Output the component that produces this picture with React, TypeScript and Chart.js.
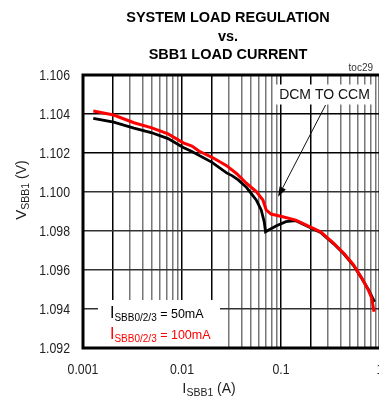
import React, { useEffect, useRef } from 'react';
import { Chart, registerables } from 'chart.js';

Chart.register(...registerables);

// ---- data ----
const current50 = [0.00127, 0.00204, 0.00327, 0.00487, 0.00723, 0.0103, 0.0126, 0.0201, 0.0282, 0.032, 0.037, 0.0447, 0.0562, 0.0631, 0.0676, 0.0698, 0.089, 0.112, 0.141, 0.178, 0.251, 0.341, 0.43, 0.541, 0.656, 0.764, 0.825, 0.88];
const vsbb1_50 = [1.10378, 1.10358, 1.10328, 1.10305, 1.10274, 1.10228, 1.10208, 1.10152, 1.10098, 1.10084, 1.10062, 1.10024, 1.09959, 1.09908, 1.09848, 1.09796, 1.09826, 1.09848, 1.09853, 1.09828, 1.09793, 1.09734, 1.09683, 1.09623, 1.09556, 1.09499, 1.09466, 1.09437];

const current100 = [0.00127, 0.00204, 0.00327, 0.00487, 0.00723, 0.0103, 0.0126, 0.0148, 0.0201, 0.0282, 0.0355, 0.0447, 0.0562, 0.0657, 0.0708, 0.0794, 0.104, 0.141, 0.178, 0.251, 0.341, 0.43, 0.541, 0.656, 0.764, 0.825, 0.87];
const vsbb1_100 = [1.10415, 1.10395, 1.10355, 1.1033, 1.10298, 1.10252, 1.10236, 1.1021, 1.10178, 1.10135, 1.10095, 1.10045, 1.10002, 1.09959, 1.09908, 1.09887, 1.09873, 1.09856, 1.09831, 1.09796, 1.09737, 1.09686, 1.09626, 1.09557, 1.09497, 1.09455, 1.09386];

const yTickValues = [1.092, 1.094, 1.096, 1.098, 1.1, 1.102, 1.104, 1.106];
const xDecades = [0.001, 0.01, 0.1, 1];
const xDecadeLabels = ['0.001', '0.01', '0.1', '1'];
const titleLines = ['SYSTEM LOAD REGULATION', 'vs.', 'SBB1 LOAD CURRENT'];
const seriesLabels = [
  { main: 'I', sub: 'SBB0/2/3', rest: ' = 50mA' },
  { main: 'I', sub: 'SBB0/2/3', rest: ' = 100mA' },
];
const seriesColors = ['#000000', '#ff0000'];
const annotationText = 'DCM TO CCM';
const annotationAt = { x: 0.275, y: 1.105 };
const arrowFrom = { x: 0.282, y: 1.10446 };
const arrowTo = { x: 0.0935, y: 1.09976 };
const figureId = 'toc29';

// grid values for the log axis: 1..9 x each decade
const xGridValues: number[] = [];
xDecades.forEach((d, i) => {
  if (i === xDecades.length - 1) { xGridValues.push(d); return; }
  for (let m = 1; m <= 9; m++) xGridValues.push(+(d * m).toPrecision(3));
});

const SANS = "'Liberation Sans', Arial, sans-serif";

function decadeIndex(v: number) {
  return xDecades.findIndex((d) => Math.abs(Math.log10(v) - Math.log10(d)) < 1e-6);
}
function mantissa(v: number) {
  const e = Math.floor(Math.log10(v) + 1e-9);
  return Math.round(v / Math.pow(10, e));
}

type Part = { text: string; font: string; dy: number };
function richWidth(ctx: CanvasRenderingContext2D, parts: Part[]) {
  let w = 0;
  parts.forEach((p) => { ctx.font = p.font; w += ctx.measureText(p.text).width; });
  return w;
}
function drawRich(ctx: CanvasRenderingContext2D, parts: Part[], x: number, y: number) {
  let cx = x;
  ctx.textAlign = 'left';
  ctx.textBaseline = 'alphabetic';
  parts.forEach((p) => {
    ctx.font = p.font;
    ctx.fillText(p.text, cx, y + p.dy);
    cx += ctx.measureText(p.text).width;
  });
}
// condensed text (narrow face emulation)
function drawNarrow(ctx: CanvasRenderingContext2D, text: string, x: number, y: number, align: CanvasTextAlign) {
  ctx.save();
  ctx.translate(x, y);
  ctx.scale(0.82, 1);
  ctx.textAlign = align;
  ctx.textBaseline = 'alphabetic';
  ctx.fillText(text, 0, 0);
  ctx.restore();
}

const decorPlugin = {
  id: 'decor',
  beforeDatasetsDraw(chart: any) {
    const { ctx, chartArea: a, scales } = chart;
    ctx.save();
    ctx.fillStyle = '#ffffff';
    // legend box
    ctx.fillRect(a.left + 15, a.bottom - 48, 122, 48);
    // annotation box
    const ax = scales.x.getPixelForValue(annotationAt.x);
    const ay = scales.y.getPixelForValue(annotationAt.y);
    ctx.font = `14px ${SANS}`;
    const tw = ctx.measureText(annotationText).width;
    ctx.fillRect(ax - tw / 2 - 4, ay - 10, tw + 8, 20);
    ctx.restore();
  },
  afterDraw(chart: any) {
    const { ctx, chartArea: a, scales } = chart;
    ctx.save();
    // plot border
    ctx.strokeStyle = '#000';
    ctx.lineWidth = 3;
    ctx.strokeRect(a.left, a.top, a.right - a.left, a.bottom - a.top);

    // tick labels
    ctx.fillStyle = '#222';
    ctx.font = `15px ${SANS}`;
    yTickValues.forEach((v) => {
      const py = scales.y.getPixelForValue(v);
      drawNarrow(ctx, v.toFixed(3), a.left - 13, py + 5.4, 'right');
    });
    xDecades.forEach((v, i) => {
      const px = scales.x.getPixelForValue(v);
      drawNarrow(ctx, xDecadeLabels[i], px, a.bottom + 25.5, 'center');
    });

    // title
    ctx.fillStyle = '#000';
    ctx.font = `bold 14.5px ${SANS}`;
    ctx.textAlign = 'center';
    ctx.textBaseline = 'alphabetic';
    const tcx = 228;
    [21.7, 40.5, 59.3].forEach((by, i) => ctx.fillText(titleLines[i], tcx, by));

    // figure id
    ctx.font = `10px ${SANS}`;
    ctx.fillStyle = '#333';
    ctx.textAlign = 'right';
    ctx.fillText(figureId, 373, 71);

    // annotation
    const ax = scales.x.getPixelForValue(annotationAt.x);
    const ay = scales.y.getPixelForValue(annotationAt.y);
    ctx.font = `14px ${SANS}`;
    ctx.fillStyle = '#111';
    ctx.textAlign = 'center';
    ctx.textBaseline = 'middle';
    ctx.fillText(annotationText, ax, ay + 0.5);
    const fx = scales.x.getPixelForValue(arrowFrom.x);
    const fy = scales.y.getPixelForValue(arrowFrom.y);
    const tx = scales.x.getPixelForValue(arrowTo.x);
    const ty = scales.y.getPixelForValue(arrowTo.y);
    const ang = Math.atan2(ty - fy, tx - fx);
    const hl = 10, hw = 3.5;
    const bx = tx - hl * Math.cos(ang), by2 = ty - hl * Math.sin(ang);
    ctx.strokeStyle = '#111';
    ctx.lineWidth = 1;
    ctx.beginPath();
    ctx.moveTo(fx, fy);
    ctx.lineTo(bx, by2);
    ctx.stroke();
    ctx.fillStyle = '#000';
    ctx.beginPath();
    ctx.moveTo(tx, ty);
    ctx.lineTo(bx + hw * Math.sin(ang), by2 - hw * Math.cos(ang));
    ctx.lineTo(bx - hw * Math.sin(ang), by2 + hw * Math.cos(ang));
    ctx.closePath();
    ctx.fill();

    // series labels
    seriesLabels.forEach((s, i) => {
      ctx.fillStyle = seriesColors[i];
      drawRich(ctx, [
        { text: s.main, font: `16px ${SANS}`, dy: 0 },
        { text: s.sub, font: `10px ${SANS}`, dy: 3 },
        { text: s.rest, font: `12.5px ${SANS}`, dy: 0 },
      ], a.left + 27, 318 + i * 20.5);
    });

    // x axis title
    ctx.fillStyle = '#222';
    const xt: Part[] = [
      { text: 'I', font: `15px ${SANS}`, dy: 0 },
      { text: 'SBB1', font: `10.5px ${SANS}`, dy: 3 },
      { text: ' (A)', font: `14px ${SANS}`, dy: 0 },
    ];
    const xw = richWidth(ctx, xt);
    drawRich(ctx, xt, 209 - xw / 2, 393);

    // y axis title
    const yt: Part[] = [
      { text: 'V', font: `15px ${SANS}`, dy: 0 },
      { text: 'SBB1', font: `10.5px ${SANS}`, dy: 3 },
      { text: ' (V)', font: `14px ${SANS}`, dy: 0 },
    ];
    const yw = richWidth(ctx, yt);
    ctx.translate(26, 190);
    ctx.rotate(-Math.PI / 2);
    drawRich(ctx, yt, -yw / 2, 0);
    ctx.restore();
  },
};

export default function App() {
  const ref = useRef<HTMLCanvasElement>(null);
  useEffect(() => {
    document.body.style.margin = '0';
    const chart = new Chart(ref.current!, {
      type: 'line',
      data: {
        datasets: [
          {
            label: '100mA',
            data: current100.map((x, i) => ({ x, y: vsbb1_100[i] })),
            borderColor: seriesColors[1],
            borderWidth: 3,
            pointRadius: 0,
            tension: 0,
            order: 0,
          },
          {
            label: '50mA',
            data: current50.map((x, i) => ({ x, y: vsbb1_50[i] })),
            borderColor: seriesColors[0],
            borderWidth: 2.8,
            pointRadius: 0,
            tension: 0,
            order: 1,
          },
        ],
      },
      options: {
        responsive: false,
        animation: false,
        events: [],
        layout: { padding: { top: 75, right: 4, left: 0, bottom: 0 } },
        plugins: { legend: { display: false }, tooltip: { enabled: false }, title: { display: false } },
        scales: {
          x: {
            type: 'logarithmic',
            min: 0.001,
            max: 1,
            afterBuildTicks: (s: any) => { s.ticks = xGridValues.map((v) => ({ value: v })); },
            afterFit: (s: any) => { s.height = 52; s.paddingLeft = 0; s.paddingRight = 0; },
            ticks: { display: false, autoSkip: false },
            grid: {
              drawTicks: false,
              lineWidth: 1.5,
              color: (c: any) => {
                const v = c.tick ? c.tick.value : 0;
                if (decadeIndex(v) >= 0 || mantissa(v) === 2) return '#000';
                return '#777';
              },
            },
            border: { display: false },
          },
          y: {
            type: 'linear',
            min: 1.092,
            max: 1.106,
            afterBuildTicks: (s: any) => { s.ticks = yTickValues.map((v) => ({ value: v })); },
            afterFit: (s: any) => { s.width = 83; s.paddingTop = 0; s.paddingBottom = 0; },
            ticks: { display: false },
            grid: {
              drawTicks: false,
              lineWidth: 1.5,
              color: (c: any) => {
                const v = c.tick ? c.tick.value : 0;
                return v >= 1.1015 ? '#000' : '#333';
              },
            },
            border: { display: false },
          },
        },
      },
      plugins: [decorPlugin],
    } as any);
    return () => chart.destroy();
  }, []);
  return (
    <div style={{ width: 379, height: 400, overflow: 'hidden', position: 'relative', background: '#fff' }}>
      <canvas ref={ref} width={384} height={400} style={{ display: 'block', width: 384, height: 400 }} />
    </div>
  );
}
